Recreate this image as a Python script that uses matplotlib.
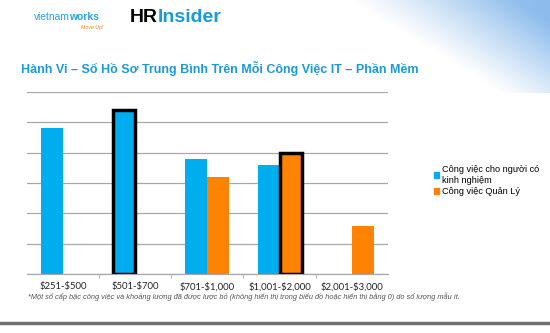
import numpy as np
import matplotlib
matplotlib.use("Agg")
import matplotlib.pyplot as plt
from matplotlib.patches import Patch

plt.rcParams["text.parse_math"] = False

# data (units = gridline steps, no y labels shown)
categories = ["$251-$500", "$501-$700", "$701-$1,000", "$1,001-$2,000", "$2,001-$3,000"]
experienced = [4.81, 5.41, 3.80, 3.60, 0]
manager = [0, 0, 3.20, 4.00, 1.59]
# bars that carry the thick black outline
exp_highlight = [False, True, False, False, False]
mgr_highlight = [False, False, False, True, False]

series_names = ["Công việc cho người có\nkinh nghiệm", "Công việc Quản Lý"]
title = "Hành Vi – Số Hồ Sơ Trung Bình Trên Mỗi Công Việc IT – Phần Mềm"
note = ("*Một số cấp bậc công việc và khoảng lương đã được lược bỏ (không hiển thị "
        "trong biểu đồ hoặc hiển thị bằng 0) do số lượng mẫu ít.")

blue = "#00aeef"
orange = "#ff8200"
title_blue = "#1b9ad8"

fig = plt.figure(figsize=(5.5, 3.33), dpi=100)
fig.patch.set_facecolor("white")

# soft blue corner decoration at the top right
deco = fig.add_axes([0.58, 0.72, 0.42, 0.28], zorder=0)
h, w = 100, 250
yy, xx = np.mgrid[0:h, 0:w]
u = xx / (w - 1)
v = 1 - yy / (h - 1)
alpha = np.clip((u * 1.2 + v * 0.8 - 0.95) * 0.7, 0, 0.6)
img = np.zeros((h, w, 4))
img[..., 0] = 0.45 - 0.2 * u
img[..., 1] = 0.68 - 0.12 * u
img[..., 2] = 0.88
img[..., 3] = alpha
deco.imshow(img, aspect="auto", interpolation="bilinear")
deco.axis("off")

ax = fig.add_axes([0.049, 0.177, 0.656, 0.547], zorder=1)
ax.set_facecolor("none")
x = np.arange(len(categories))
bw = 0.305
for i in range(len(categories)):
    ax.bar(x[i] - bw / 2, experienced[i], bw, color=blue,
           edgecolor="black" if exp_highlight[i] else "none",
           linewidth=2.5 if exp_highlight[i] else 0, zorder=3)
    ax.bar(x[i] + bw / 2, manager[i], bw, color=orange,
           edgecolor="black" if mgr_highlight[i] else "none",
           linewidth=2.5 if mgr_highlight[i] else 0, zorder=3)

ax.set_xlim(-0.5, len(categories) - 0.5)
ax.set_ylim(0, 6)
ax.set_yticks(np.arange(0, 7))
ax.set_yticklabels([])
ax.yaxis.grid(True, color="#a8a8a8", linewidth=0.9, zorder=0)
ax.tick_params(axis="y", length=0)
for s in ["top", "right", "left"]:
    ax.spines[s].set_visible(False)
ax.spines["bottom"].set_color("#a8a8a8")
ax.spines["bottom"].set_linewidth(0.9)

ax.set_xticks(x)
ax.set_xticklabels(categories, fontsize=6.8, family="Lato", color="#222222")
ax.tick_params(axis="x", length=0, pad=6)
ax.set_xticks(np.arange(0.5, len(categories) - 0.5), minor=True)
ax.tick_params(axis="x", which="minor", length=3, color="#a8a8a8")

handles = [Patch(color=blue), Patch(color=orange)]
fig.legend(handles, series_names, loc="upper left", bbox_to_anchor=(0.782, 0.515),
           frameon=False, handlelength=0.6, handleheight=0.6,
           handletextpad=0.3, labelspacing=0.25, borderaxespad=0,
           prop={"family": "Liberation Sans", "size": 6.6})

fig.text(0.038, 0.795, title, fontsize=9.0, fontweight="bold", color=title_blue,
         family="Liberation Sans", va="center")
fig.text(0.051, 0.108, note, fontsize=5.3, style="italic", color="#555555",
         family="Liberation Sans", va="center")

# logos as text
fig.text(0.062, 0.948, "vietnam", fontsize=7.4, color="#2aa3dc",
         family="Liberation Sans", va="center")
fig.text(0.126, 0.948, "works", fontsize=7.4, color="#2aa3dc", fontweight="bold",
         family="Liberation Sans", va="center")
fig.text(0.188, 0.918, "Move Up!", fontsize=3.8, color="#f08a1c", style="italic",
         family="Liberation Sans", va="center", ha="right")
fig.text(0.236, 0.946, "HR", fontsize=14, color="black", fontweight="bold",
         family="Liberation Sans", va="center")
fig.text(0.287, 0.946, "Insider", fontsize=14, color="#1b9ad8", fontweight="bold",
         family="Liberation Sans", va="center")

# bottom rule
fig.add_artist(plt.Line2D([0, 1], [0.03, 0.03], color="#707070", linewidth=2.5))

fig.savefig("out.png", dpi=100)
